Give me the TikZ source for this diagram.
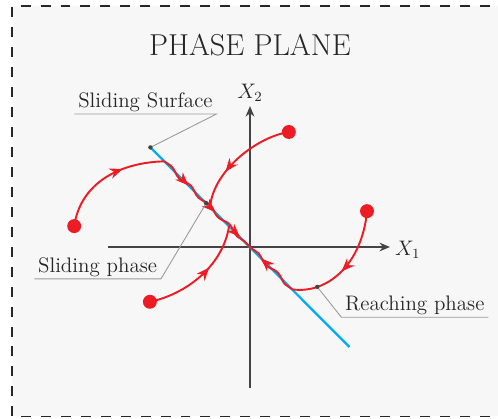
\documentclass[tikz,border=0pt]{standalone}
\usepackage{xcolor}
\usepackage{tikz}
\usetikzlibrary{arrows.meta,decorations.markings,decorations.pathmorphing}
\definecolor{trajcol}{HTML}{ED1C24}
\definecolor{surfcol}{HTML}{00AEEF}
\definecolor{axiscol}{HTML}{444444}
\definecolor{leadcol}{HTML}{9A9A9A}
\definecolor{textcol}{HTML}{262626}
\definecolor{boxbg}{HTML}{F7F7F7}

\begin{document}
\begin{tikzpicture}[font=\large,text=textcol,
  frame/.style={draw=textcol,fill=boxbg,line width=0.75pt,
                dash pattern=on 5.7pt off 5.7pt},
  axis/.style={draw=axiscol,line width=0.9pt,-{Stealth[length=6pt,width=5pt]}},
  traj/.style={draw=trajcol,line width=1.1pt},
  chatter/.style={traj,decorate,
                  decoration={snake,amplitude=0.9pt,segment length=0.55cm}},
  midarrow/.style={postaction={decorate},
    decoration={markings,mark=at position #1 with
      {\arrow[color=trajcol]{Stealth[length=7.5pt,width=6pt]}}}},
  startdot/.style={circle,fill=trajcol,minimum size=0.28cm,inner sep=0pt},
  tag/.style={inner xsep=2pt,inner ysep=1pt,anchor=south},
  leader/.style={draw=leadcol,line width=0.5pt},
  tip/.style={circle,fill=axiscol,minimum size=2.5pt,inner sep=0pt},
]
\useasboundingbox (-5.02,-3.434) rectangle (4.98,4.96);
\draw[frame] (-4.78,-3.40) rectangle (5.40,4.84);

% ---------- title and axes ----------
\node[font=\LARGE] (title) at (0,4.06) {PHASE PLANE};
\coordinate (xmin) at (-2.85,0);
\coordinate (xmax) at (2.81,0);
\coordinate (ymin) at (0,-2.83);
\coordinate (ymax) at (0,2.83);
\draw[axis] (xmin) -- (xmax);
\draw[axis] (ymin) -- (ymax);
\node (x1lab) at (3.17,-0.06) {$X_1$};
\node (x2lab) at (0,3.09) {$X_2$};

% ---------- sliding surface ----------
\coordinate (stop) at (-2,2);
\coordinate (sbot) at (2,-2.01);
\coordinate (o) at (0,0);
\draw[surfcol,line width=1.3pt] (stop) -- (sbot);

% ---------- trajectories ----------
\node[startdot] (p1) at (-3.53,0.42) {};
\node[startdot] (p2) at (0.78,2.31) {};
\node[startdot] (p3) at (-2.01,-1.10) {};
\node[startdot] (p4) at (2.35,0.72) {};
\coordinate (s1) at (-1.72,1.72);
\coordinate (s2) at (-0.80,0.80);
\coordinate (s3) at (-0.42,0.42);
\coordinate (s4) at (0.85,-0.85);

\draw[traj,midarrow=0.65] (p1.center) .. controls (-3.4,1.3) and (-2.6,1.7) .. (s1);
\draw[traj,midarrow=0.66] (p2.center) .. controls (0.1,2.2) and (-0.75,1.5) .. (s2);
\draw[traj,midarrow=0.6] (p3.center) .. controls (-1.3,-0.95) and (-0.55,-0.4) .. (s3);
\draw[traj,midarrow=0.55] (p4.center) .. controls (2.25,-0.35) and (1.55,-0.95) .. (s4);

\draw[chatter] (s1) -- (o);
\draw[chatter] (s4) -- (o);
\path[decoration={markings,
  mark=at position 0.28 with {\arrow[color=trajcol]{Stealth[length=7.5pt,width=6pt]}},
  mark=at position 0.59 with {\arrow[color=trajcol]{Stealth[length=7.5pt,width=6pt]}},
  mark=at position 0.88 with {\arrow[color=trajcol]{Stealth[length=7.5pt,width=6pt]}}},
  decorate] (s1) -- (o);
\path[decoration={markings,
  mark=at position 0.73 with {\arrow[color=trajcol]{Stealth[length=7.5pt,width=6pt]}}},
  decorate] (s4) -- (o);

% ---------- labels ----------
\node[tag] (sslab) at (-2.10,2.67) {Sliding Surface};
\draw[leader] (sslab.south west) -- (sslab.south east) -- (stop);
\node[tip] (sstip) at (stop) {};

\coordinate (sptip) at (-0.88,0.88);
\node[tag] (splab) at (-3.06,-0.64) {Sliding phase};
\draw[leader] (splab.south west) -- (splab.south east) -- (sptip);
\node[tip] at (sptip) {};

\coordinate (rptip) at (1.35,-0.80);
\node[tag] (rplab) at (3.31,-1.41) {Reaching phase};
\draw[leader] (rptip) -- (rplab.south west) -- (rplab.south east);
\node[tip] at (rptip) {};
\end{tikzpicture}
\end{document}
